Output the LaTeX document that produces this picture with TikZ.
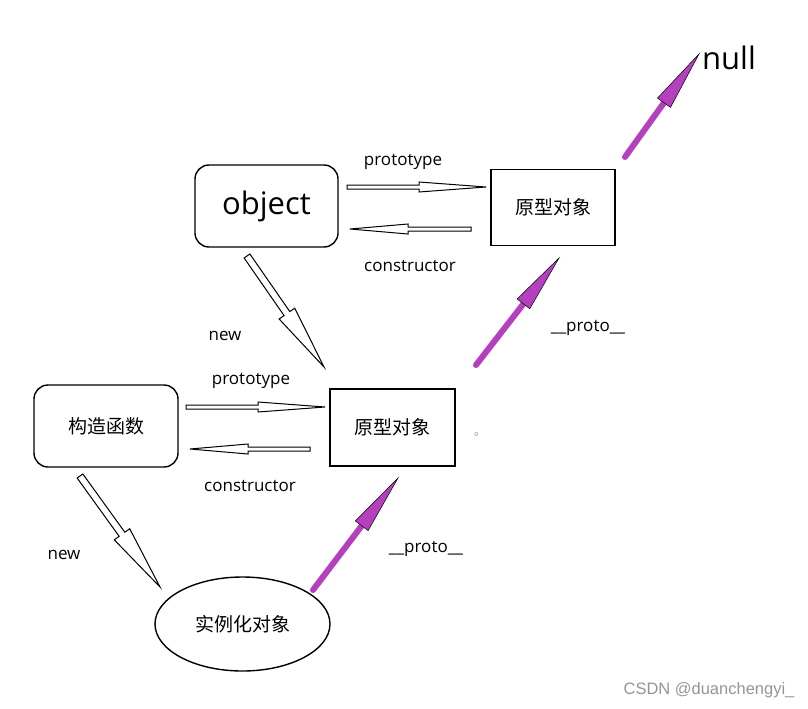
\documentclass[tikz,border=0pt]{standalone}
\usepackage{fontspec}
\setmainfont{Open Sans}
\newfontfamily\cjk{Noto Sans CJK SC}
\newfontfamily\marksans{Liberation Sans}
\usetikzlibrary{calc,shapes.geometric}
\definecolor{protopurple}{RGB}{180,64,190}
\definecolor{markgray}{RGB}{150,150,150}
\tikzset{
  roundbox/.style={draw,line width=1.4pt,rounded corners=14pt,inner sep=0pt,
    minimum width=143pt,minimum height=82pt},
  protobox/.style={draw,line width=1.4pt,inner sep=0pt,
    minimum width=124pt,minimum height=76pt},
  instbox/.style={draw,ellipse,line width=1.4pt,inner sep=0pt,
    minimum width=175pt,minimum height=94pt},
  cjktext/.style={font=\cjk\fontsize{19}{22}\selectfont},
  edgetext/.style={font=\fontsize{17}{20}\selectfont},
  hollowline/.style={draw=black,line width=1pt,fill=white,line join=miter},
  protoshaft/.style={draw=protopurple,line width=6pt,line cap=round},
  protohead/.style={fill=protopurple,draw=black,line width=0.5pt}
}
% hollow arrow: start, end, head length, head half width, shaft half width
\newcommand{\hollowarrow}[5]{%
  \path ($(#2)!#3!(#1)$) coordinate (hb);
  \draw[hollowline] ($(#1)!#5!90:(#2)$) -- ($(hb)!#5!-90:(#1)$)
    -- ($(hb)!#4!-90:(#1)$) -- (#2) -- ($(hb)!#4!90:(#1)$)
    -- ($(hb)!#5!90:(#1)$) -- ($(#1)!#5!-90:(#2)$) -- cycle;
}
% purple __proto__ arrow: start, end, head length, head half width
\newcommand{\protoarrow}[4]{%
  \path ($(#2)!#3!(#1)$) coordinate (hb);
  \draw[protoshaft] (#1) -- (hb);
  \draw[protohead] (#2) -- ($(hb)!#4!90:(#1)$) -- ($(hb)!#4!-90:(#1)$) -- cycle;
}
\begin{document}
\begin{tikzpicture}[x=1pt,y=-1pt]
  \useasboundingbox[fill=white] (0,0) rectangle (808,709);
  % boxes
  \node[roundbox,font=\fontsize{31}{34}\selectfont] (object) at (266.5,206) {object};
  \node[protobox,cjktext] (proto1) at (553,207.5) {原型对象};
  \node[roundbox,cjktext,minimum width=144pt] (ctor) at (106,426) {构造函数};
  \node[protobox,cjktext,minimum width=125pt,minimum height=77pt] (proto2) at (392.5,427.5) {原型对象};
  \node[instbox,cjktext] (inst) at (242.5,624) {实例化对象};
  \node[font=\fontsize{31}{34}\selectfont] (null) at (729,58) {null};
  % arrow ends
  \coordinate (p1s) at (347,187);
  \coordinate (p1e) at (486,187);
  \coordinate (c1s) at (471,229);
  \coordinate (c1e) at (350,229);
  \coordinate (n1s) at (247,256);
  \coordinate (n1e) at (324,367);
  \coordinate (p2s) at (186,407);
  \coordinate (p2e) at (325,407);
  \coordinate (c2s) at (310,449);
  \coordinate (c2e) at (190,449);
  \coordinate (n2s) at (80,476);
  \coordinate (n2e) at (160,587);
  \coordinate (u1s) at (476,365);
  \coordinate (u1e) at (559,258);
  \coordinate (u2s) at (313,590);
  \coordinate (u2e) at (398,478);
  \coordinate (u3s) at (625,157);
  \coordinate (u3e) at (699,54);
  % hollow arrows
  \hollowarrow{p1s}{p1e}{67pt}{5pt}{2pt}
  \hollowarrow{c1s}{c1e}{58pt}{5pt}{2pt}
  \hollowarrow{p2s}{p2e}{67pt}{5pt}{2pt}
  \hollowarrow{c2s}{c2e}{58pt}{5pt}{2pt}
  \hollowarrow{n1s}{n1e}{65pt}{9.5pt}{3.5pt}
  \hollowarrow{n2s}{n2e}{65pt}{9.5pt}{3.5pt}
  % purple arrows
  \protoarrow{u1s}{u1e}{58pt}{8pt}
  \protoarrow{u2s}{u2e}{60pt}{8pt}
  \protoarrow{u3s}{u3e}{60pt}{8pt}
  % labels
  \node[edgetext] (lp1) at (403,162) {prototype};
  \node[edgetext] (lc1) at (410,266) {constructor};
  \node[edgetext] (ln1) at (225,336) {new};
  \node[edgetext] (lu1) at (588,328) {\_\_proto\_\_};
  \node[edgetext] (lp2) at (251,381) {prototype};
  \node[edgetext] (lc2) at (250,486) {constructor};
  \node[edgetext] (ln2) at (64,555) {new};
  \node[edgetext] (lu2) at (426,549) {\_\_proto\_\_};
  \node[font=\cjk\fontsize{12}{13}\selectfont,text=markgray] (dot) at (480,434) {。};
  \node[font=\marksans\fontsize{16.5}{18}\selectfont,text=markgray] (mark) at (709,690) {CSDN @duanchengyi\_};
\end{tikzpicture}
\end{document}
